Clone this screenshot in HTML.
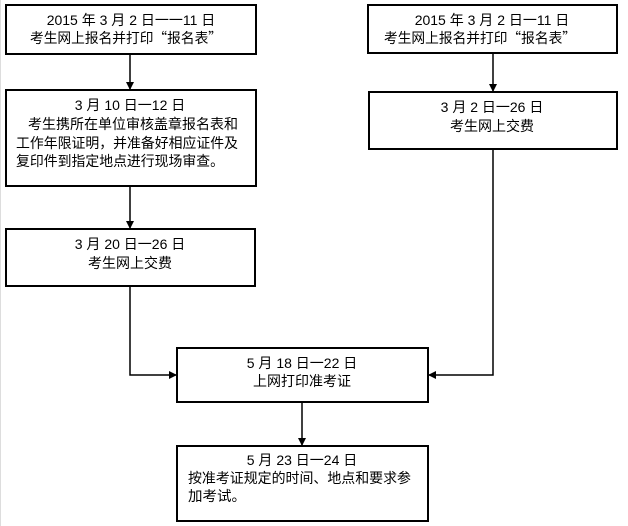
<!DOCTYPE html>
<html><head><meta charset="utf-8"><style>
html,body{margin:0;padding:0;background:#fff;}
svg{display:block;}
text{font-family:"Liberation Sans","Noto Sans CJK SC","WenQuanYi Zen Hei",sans-serif;font-size:14px;fill:#000;}
.c{font-family:"Noto Sans CJK SC",sans-serif;}
</style></head><body>
<svg width="628" height="526" viewBox="0 0 628 526" xmlns="http://www.w3.org/2000/svg">
<defs><marker id="a" markerWidth="8" markerHeight="8" refX="7" refY="4" orient="auto" markerUnits="userSpaceOnUse"><path d="M0,0 L8,4 L0,8 z" fill="#000"/></marker></defs>
<line x1="0.5" y1="0" x2="0.5" y2="526" stroke="#ddd"/>
<g fill="none" stroke="#000" stroke-width="2">
<rect x="6" y="5" width="250" height="49"/>
<rect x="6" y="90" width="250" height="96"/>
<rect x="6" y="229" width="249" height="57"/>
<rect x="368" y="5" width="249" height="48"/>
<rect x="369" y="92" width="248" height="57"/>
<rect x="177" y="348" width="251" height="54"/>
<rect x="177" y="446" width="251" height="75"/>
</g>
<g stroke="#000" stroke-width="1.5" fill="none">
<line x1="130" y1="54" x2="130" y2="89" marker-end="url(#a)"/>
<line x1="130" y1="186" x2="130" y2="228" marker-end="url(#a)"/>
<polyline points="130,286 130,375 176,375" marker-end="url(#a)"/>
<line x1="493" y1="53" x2="493" y2="91" marker-end="url(#a)"/>
<polyline points="493,149 493,375 429,375" marker-end="url(#a)"/>
<line x1="302" y1="402" x2="302" y2="445" marker-end="url(#a)"/>
</g>
<text x="131" y="25" text-anchor="middle">2015 年 3 月 2 日一一11 日</text>
<text x="30" y="43" textLength="192" lengthAdjust="spacingAndGlyphs">考生网上报名并打印<tspan class="c">“</tspan>报名表<tspan class="c">”</tspan></text>
<text x="130" y="110" text-anchor="middle">3 月 10 日一12 日</text>
<text x="28" y="129" textLength="210" lengthAdjust="spacingAndGlyphs">考生携所在单位审核盖章报名表和</text>
<text x="16" y="148" textLength="222" lengthAdjust="spacingAndGlyphs">工作年限证明，并准备好相应证件及</text>
<text x="16" y="166" textLength="208" lengthAdjust="spacingAndGlyphs">复印件到指定地点进行现场审查。</text>
<text x="130" y="249" text-anchor="middle">3 月 20 日一26 日</text>
<text x="130" y="268" text-anchor="middle">考生网上交费</text>
<text x="492" y="25" text-anchor="middle">2015 年 3 月 2 日一11 日</text>
<text x="384" y="43" textLength="192" lengthAdjust="spacingAndGlyphs">考生网上报名并打印<tspan class="c">“</tspan>报名表<tspan class="c">”</tspan></text>
<text x="492" y="112" text-anchor="middle">3 月 2 日一26 日</text>
<text x="492" y="131" text-anchor="middle">考生网上交费</text>
<text x="302" y="368" text-anchor="middle">5 月 18 日一22 日</text>
<text x="302" y="386" text-anchor="middle">上网打印准考证</text>
<text x="302" y="465" text-anchor="middle">5 月 23 日一24 日</text>
<text x="188" y="483" textLength="223" lengthAdjust="spacingAndGlyphs">按准考证规定的时间、地点和要求参</text>
<text x="188" y="501" textLength="58" lengthAdjust="spacingAndGlyphs">加考试。</text>
</svg>
</body></html>
